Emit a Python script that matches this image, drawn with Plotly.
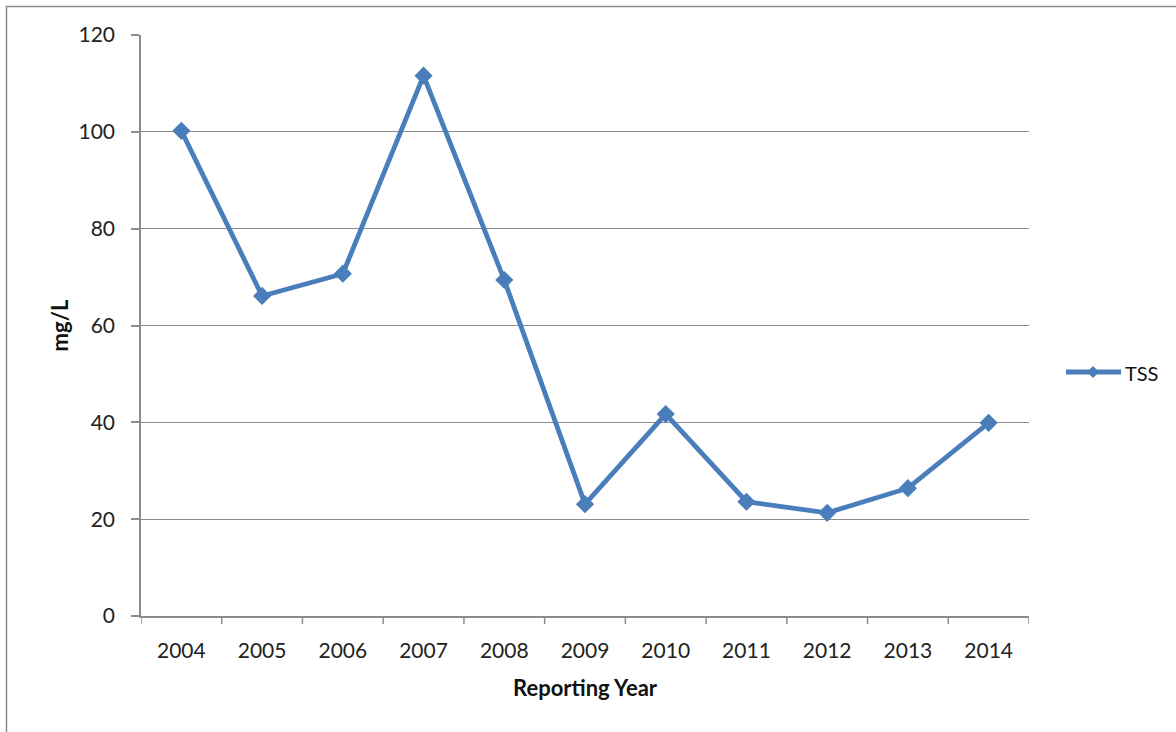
import plotly.graph_objects as go

# TSS concentration by reporting year
years = ["2004", "2005", "2006", "2007", "2008", "2009", "2010", "2011", "2012", "2013", "2014"]
tss = [100.2, 66.1, 70.7, 111.6, 69.4, 23.1, 41.7, 23.6, 21.3, 26.4, 39.9]
y_ticks = [0, 20, 40, 60, 80, 100, 120]
series_name = "TSS"

W, H = 1176, 732
L, R, T, B = 141, 1029, 35, 616
FONT = "Lato, 'Open Sans', sans-serif"
BLUE = "#4a7ebb"
GRID = "#8c8c8c"


# paper-coordinate helpers
def px_x(p):
    return (p - L) / (R - L)


def px_y(p):
    return (B - p) / (B - T)


fig = go.Figure()
fig.add_trace(go.Scatter(
    x=list(range(len(years))), y=tss, name=series_name, mode="lines+markers",
    line=dict(color=BLUE, width=4.8),
    marker=dict(symbol="diamond", size=14, color=BLUE),
    showlegend=False,
))

shapes = [
    # outer chart frame (left and top edges)
    dict(type="line", xref="paper", yref="paper", x0=px_x(6.5), x1=px_x(6.5),
         y0=px_y(6), y1=px_y(740), line=dict(color="#8a8a8a", width=1.5)),
    dict(type="line", xref="paper", yref="paper", x0=px_x(6), x1=px_x(1180),
         y0=px_y(6.5), y1=px_y(6.5), line=dict(color="#8a8a8a", width=1.5)),
    # legend key: line with a diamond
    dict(type="line", xref="paper", yref="paper", x0=px_x(1066), x1=px_x(1121),
         y0=px_y(372), y1=px_y(372), line=dict(color=BLUE, width=4.8)),
]
cx, cy, d = 1093, 372, 6
shapes.append(dict(
    type="path", xref="paper", yref="paper",
    path=(f"M {px_x(cx - d)} {px_y(cy)} L {px_x(cx)} {px_y(cy - d)} "
          f"L {px_x(cx + d)} {px_y(cy)} L {px_x(cx)} {px_y(cy + d)} Z"),
    fillcolor=BLUE, line=dict(width=0),
))

# category-boundary tick marks on the x axis
for i in range(len(years) + 1):
    shapes.append(dict(type="line", xref="x", yref="paper", x0=i - 0.5, x1=i - 0.5,
                       y0=0, y1=px_y(624), line=dict(color=GRID, width=1.5)))

fig.add_annotation(xref="paper", yref="paper", x=px_x(1123), y=px_y(373),
                   xanchor="left", yanchor="middle", showarrow=False,
                   text=series_name, font=dict(family=FONT, size=20, color="#111111"))

fig.update_layout(
    width=W, height=H,
    margin=dict(l=L, r=W - R, t=T, b=H - B),
    paper_bgcolor="white", plot_bgcolor="white",
    font=dict(family=FONT, size=21, color="#222222"),
    showlegend=False,
    shapes=shapes,
    xaxis=dict(
        range=[-0.5, len(years) - 0.5],
        tickmode="array", tickvals=list(range(len(years))), ticktext=years,
        showgrid=False, zeroline=False,
        showline=True, linecolor=GRID, linewidth=1.5,
        ticks="", ticklen=0, tickfont=dict(size=21), ticklabelstandoff=15,
        title=dict(text="<b>Reporting Year</b>", font=dict(size=22, color="#111111"),
                   standoff=20),
        fixedrange=True,
    ),
    yaxis=dict(
        range=[0, 120], tickmode="array", tickvals=y_ticks,
        showgrid=True, gridcolor=GRID, gridwidth=1.2,
        zeroline=False, showline=True, linecolor=GRID, linewidth=1.5,
        ticks="outside", ticklen=8, tickcolor=GRID, tickwidth=1.5,
        tickfont=dict(size=21), ticklabelstandoff=12,
        title=dict(text="<b>mg/L</b>", font=dict(size=22, color="#111111"), standoff=4),
        fixedrange=True,
    ),
)

fig.write_html("out.html", config={"displayModeBar": False})
